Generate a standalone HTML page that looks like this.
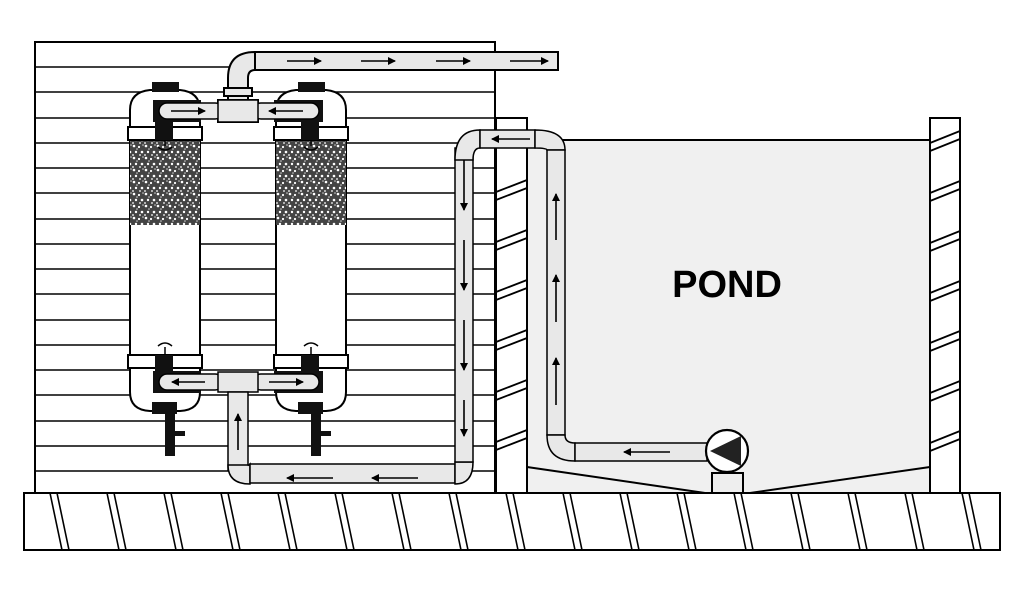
<!DOCTYPE html>
<html><head><meta charset="utf-8"><style>
html,body{margin:0;padding:0;background:#fff;}
svg{display:block}
</style></head><body>
<svg width="1024" height="596" viewBox="0 0 1024 596" xmlns="http://www.w3.org/2000/svg">
<defs>
<pattern id="grav" width="12" height="12" patternUnits="userSpaceOnUse">
<rect width="12" height="12" fill="#444"/>
<circle cx="2" cy="2" r="1.3" fill="#fff"/><circle cx="7" cy="3" r="1.1" fill="#fff"/>
<circle cx="10" cy="8" r="1.3" fill="#fff"/><circle cx="4" cy="8" r="1.2" fill="#fff"/>
<circle cx="8" cy="11" r="0.9" fill="#fff"/><circle cx="1" cy="11" r="0.9" fill="#fff"/>
<circle cx="11" cy="1" r="0.8" fill="#ccc"/><circle cx="5" cy="5" r="0.8" fill="#ccc"/>
</pattern>
<marker id="ah" markerWidth="8" markerHeight="8" refX="7" refY="4" orient="auto" markerUnits="userSpaceOnUse"><path d="M0,0 L8,4 L0,8 z" fill="#000"/></marker>
</defs>
<g stroke="#000" stroke-width="2" fill="none">
<rect x="35" y="42" width="460" height="451" fill="#fff"/>
<g stroke-width="1.6">
<line x1="35" y1="67" x2="495" y2="67"/><line x1="35" y1="92" x2="495" y2="92"/>
<line x1="35" y1="118" x2="495" y2="118"/><line x1="35" y1="143" x2="495" y2="143"/>
<line x1="35" y1="168" x2="495" y2="168"/><line x1="35" y1="193" x2="495" y2="193"/>
<line x1="35" y1="219" x2="495" y2="219"/><line x1="35" y1="244" x2="495" y2="244"/>
<line x1="35" y1="269" x2="495" y2="269"/><line x1="35" y1="294" x2="495" y2="294"/>
<line x1="35" y1="320" x2="495" y2="320"/><line x1="35" y1="345" x2="495" y2="345"/>
<line x1="35" y1="370" x2="495" y2="370"/><line x1="35" y1="395" x2="495" y2="395"/>
<line x1="35" y1="421" x2="495" y2="421"/><line x1="35" y1="446" x2="495" y2="446"/>
<line x1="35" y1="471" x2="495" y2="471"/>
</g>
<rect x="527" y="140" width="403" height="353" fill="#f0f0f0"/>
<polyline points="527,467 705,493" /><polyline points="750,493 930,467"/>
<rect x="496" y="118" width="31" height="375" fill="#fff"/>
<rect x="930" y="118" width="30" height="375" fill="#fff"/>
<g stroke-width="1.8">
<path d="M496,192 L527,180 M496,200 L527,188 M496,242 L527,230 M496,250 L527,238 M496,292 L527,280 M496,300 L527,288 M496,342 L527,330 M496,350 L527,338 M496,392 L527,380 M496,400 L527,388 M496,442 L527,430 M496,450 L527,438"/>
<path d="M930,143 L960,131 M930,151 L960,139 M930,193 L960,181 M930,201 L960,189 M930,243 L960,231 M930,251 L960,239 M930,293 L960,281 M930,301 L960,289 M930,343 L960,331 M930,351 L960,339 M930,393 L960,381 M930,401 L960,389 M930,443 L960,431 M930,451 L960,439"/>
</g>
<rect x="24" y="493" width="976" height="57" fill="#fff"/>
<g stroke-width="1.6">
<path d="M50,493 L62,550 M57,493 L69,550 M107,493 L119,550 M114,493 L126,550 M164,493 L176,550 M171,493 L183,550 M221,493 L233,550 M228,493 L240,550 M278,493 L290,550 M285,493 L297,550 M335,493 L347,550 M342,493 L354,550 M392,493 L404,550 M399,493 L411,550 M449,493 L461,550 M456,493 L468,550 M506,493 L518,550 M513,493 L525,550 M563,493 L575,550 M570,493 L582,550 M620,493 L632,550 M627,493 L639,550 M677,493 L689,550 M684,493 L696,550 M734,493 L746,550 M741,493 L753,550 M791,493 L803,550 M798,493 L810,550 M848,493 L860,550 M855,493 L867,550 M905,493 L917,550 M912,493 L924,550 M962,493 L974,550 M969,493 L981,550"/>
</g>
<g fill="#e8e8e8">
<rect x="255" y="52" width="303" height="18"/>
<path d="M228,100 L228,78 Q228,52 255,52 L255,70 Q248,70 248,78 L248,100 z"/>
<rect x="224" y="88" width="28" height="8"/>
<rect x="218" y="100" width="40" height="22"/>
<path d="M130,128 L130,110 Q130,92 150,90 L180,90 Q200,92 200,110 L200,128 z" fill="#fff"/>
<path d="M276,128 L276,110 Q276,92 296,90 L326,90 Q346,92 346,110 L346,128 z" fill="#fff"/>
<rect x="130" y="140" width="70" height="215" fill="#fff"/>
<rect x="276" y="140" width="70" height="215" fill="#fff"/>
<rect x="130" y="141" width="70" height="84" fill="url(#grav)" stroke="none"/>
<rect x="276" y="141" width="70" height="84" fill="url(#grav)" stroke="none"/>
<rect x="128" y="127" width="74" height="13" fill="#fff"/>
<rect x="274" y="127" width="74" height="13" fill="#fff"/>
<rect x="128" y="355" width="74" height="13" fill="#fff"/>
<rect x="274" y="355" width="74" height="13" fill="#fff"/>
<path d="M130,368 L130,392 Q130,410 150,411 L180,411 Q200,410 200,392 L200,368 z" fill="#fff"/>
<path d="M276,368 L276,392 Q276,410 296,411 L326,411 Q346,410 346,392 L346,368 z" fill="#fff"/>
</g>
<g fill="#111" stroke="none">
<rect x="152" y="82" width="27" height="10"/><rect x="298" y="82" width="27" height="10"/>
<rect x="155" y="120" width="18" height="20"/><rect x="301" y="120" width="18" height="20"/>
<rect x="155" y="355" width="18" height="16"/><rect x="301" y="355" width="18" height="16"/>
<rect x="152" y="402" width="25" height="12"/><rect x="298" y="402" width="25" height="12"/>
<rect x="165" y="414" width="10" height="42"/><rect x="311" y="414" width="10" height="42"/>
<rect x="175" y="431" width="10" height="5"/><rect x="321" y="431" width="10" height="5"/>
<rect x="153" y="100" width="48" height="22"/><rect x="274" y="100" width="49" height="22"/>
<rect x="153" y="371" width="48" height="22"/><rect x="274" y="371" width="49" height="22"/>
</g>
<g fill="#e8e8e8" stroke-width="1.5">
<rect x="159" y="103" width="64" height="16" rx="8"/>
<rect x="253" y="103" width="66" height="16" rx="8"/>
<rect x="218" y="100" width="40" height="22"/>
<rect x="159" y="374" width="64" height="16" rx="8"/>
<rect x="253" y="374" width="66" height="16" rx="8"/>
<rect x="218" y="372" width="40" height="20"/>
<rect x="228" y="392" width="20" height="78"/>
<path d="M228,465 Q228,484 250,484 L250,464 Q248,466 248,465 z"/>
<rect x="250" y="464" width="205" height="19"/>
<path d="M455,464 L455,484 Q473,484 473,462 L455,462 z"/>
<rect x="455" y="148" width="18" height="314"/>
<path d="M455,160 Q455,130 480,130 L480,148 Q473,148 473,160 z"/>
<rect x="480" y="130" width="55" height="18"/>
<path d="M535,130 Q565,130 565,150 L547,150 Q547,148 535,148 z"/>
<rect x="547" y="150" width="18" height="285"/>
<path d="M547,435 Q547,461 575,461 L575,443 Q565,443 565,435 z"/>
<rect x="575" y="443" width="132" height="18"/>
</g>
<circle cx="727" cy="451" r="21" fill="#fff" stroke-width="2.2"/>
<path d="M710,451 L741,436 L741,466 z" fill="#222" stroke="none"/>
<rect x="712" y="473" width="31" height="20" fill="#eee"/>
<g stroke-width="1.5">
<path d="M158,147 q7,6 14,0 M165,140 v6"/><path d="M304,147 q7,6 14,0 M311,140 v6"/>
<path d="M158,346 q7,-6 14,0 M165,347 v8"/><path d="M304,346 q7,-6 14,0 M311,347 v8"/>
</g>
</g>
<g stroke="#000" stroke-width="1.6" marker-end="url(#ah)">
<line x1="287" y1="61" x2="321" y2="61"/><line x1="361" y1="61" x2="395" y2="61"/>
<line x1="436" y1="61" x2="470" y2="61"/><line x1="510" y1="61" x2="548" y2="61"/>
<line x1="171" y1="111" x2="205" y2="111"/><line x1="303" y1="111" x2="269" y2="111"/>
<line x1="205" y1="382" x2="172" y2="382"/><line x1="269" y1="382" x2="303" y2="382"/>
<line x1="238" y1="450" x2="238" y2="414"/>
<line x1="333" y1="478" x2="287" y2="478"/><line x1="418" y1="478" x2="372" y2="478"/>
<line x1="464" y1="160" x2="464" y2="210"/><line x1="464" y1="240" x2="464" y2="290"/>
<line x1="464" y1="320" x2="464" y2="370"/><line x1="464" y1="400" x2="464" y2="436"/>
<line x1="530" y1="139" x2="492" y2="139"/>
<line x1="556" y1="240" x2="556" y2="194"/><line x1="556" y1="322" x2="556" y2="275"/>
<line x1="556" y1="405" x2="556" y2="358"/>
<line x1="670" y1="452" x2="624" y2="452"/>
</g>
<text x="727" y="297" font-family="Liberation Sans, sans-serif" font-weight="bold" font-size="38" text-anchor="middle" fill="#000">POND</text>
</svg>
</body></html>
